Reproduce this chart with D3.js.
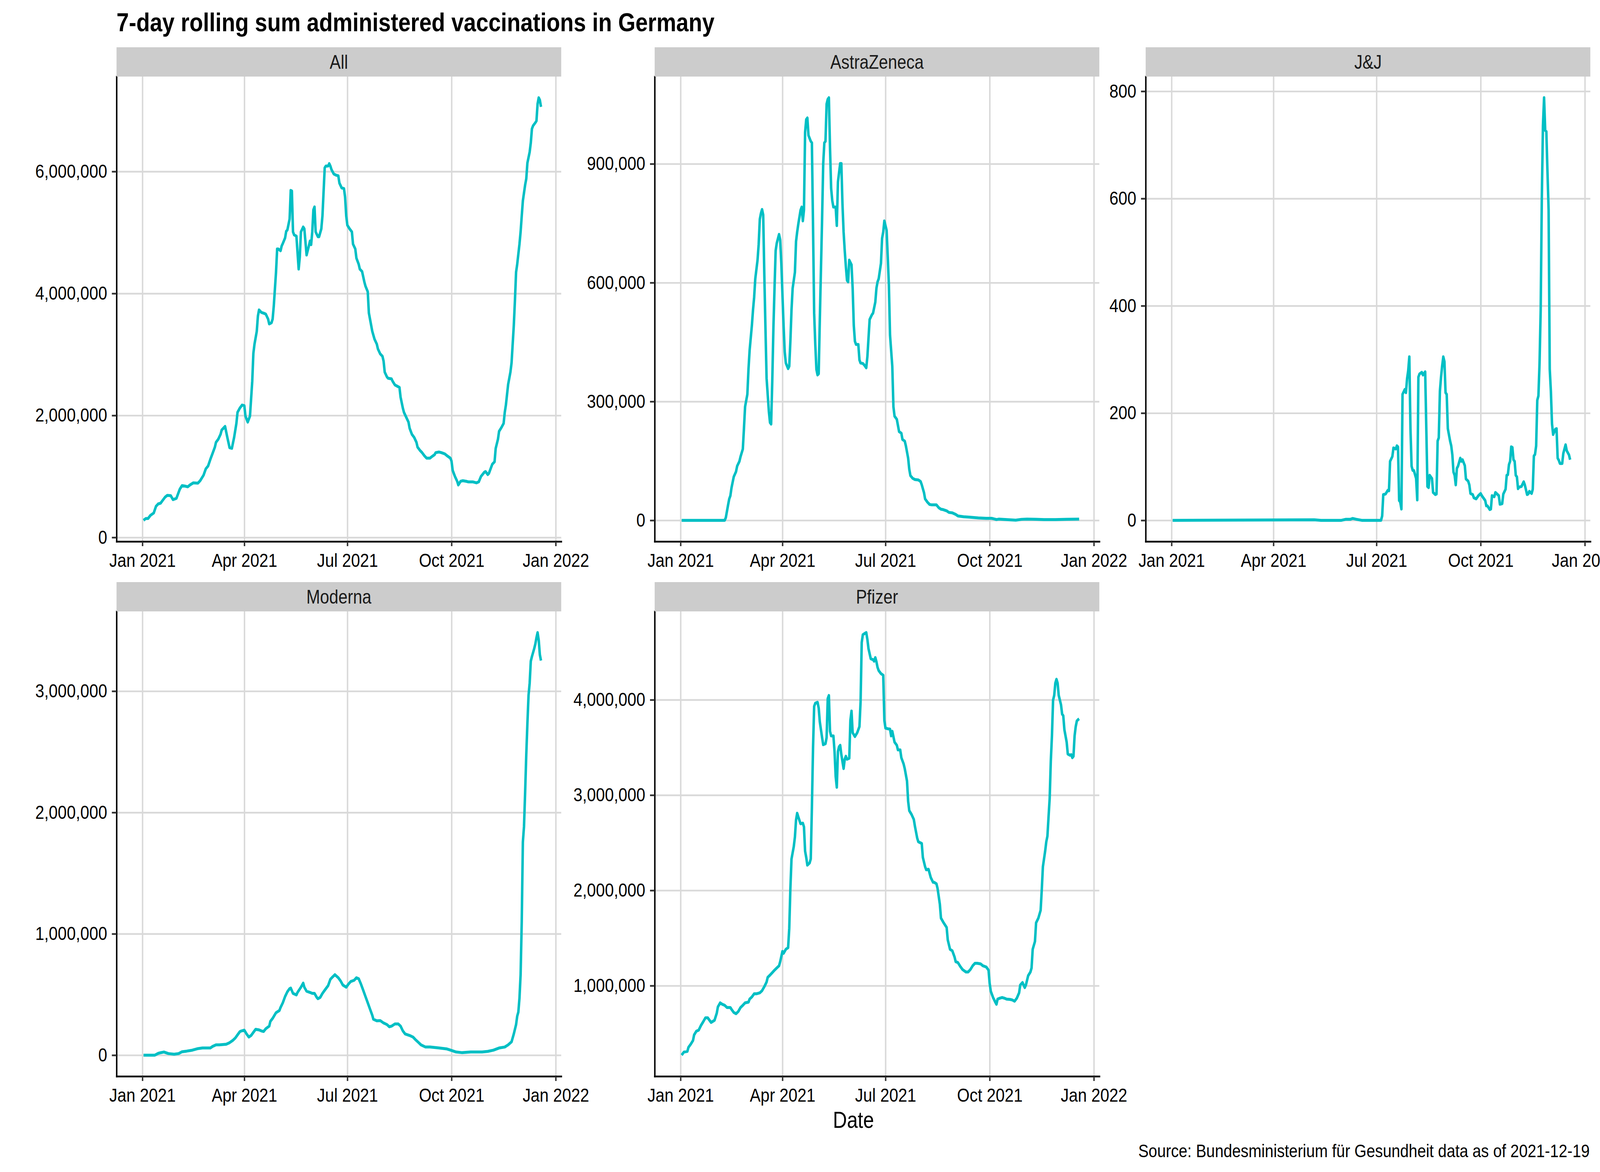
<!DOCTYPE html>
<html>
<head>
<meta charset="utf-8">
<script src="https://cdn.jsdelivr.net/npm/d3@7"></script>
<style>
  html, body { margin: 0; padding: 0; background: #fff; overflow: hidden; }
  svg { display: block; width: 100vw; height: 100vh; }
  text { font-family: "Liberation Sans", Arial, sans-serif; }
</style>
</head>
<body>
<div id="app"></div>
<script>
const W = 4800, H = 3000;

// date range of the data rows (the rolling sum is empty for the first six days)
const dateStart = "2020-12-27", dateEnd = "2021-12-19";
const xTickDates = ["2021-01-01", "2021-04-01", "2021-07-01", "2021-10-01", "2022-01-01"];

// [day of 2021 (0 = 1 Jan), 7-day sum] -- thousands of doses, except J&J (doses)
const allDoses = [[1,280],[3,310],[5,310],[7,360],[10,400],[12,510],[14,550],[16,560],[18,610],[20,660],[22,690],[25,685],[27,620],[30,640],[31,690],[33,790],[35,850],[38,840],[40,830],[42,860],[45,895],[49,890],[51,930],[54,1020],[56,1125],[58,1170],[60,1280],[62,1380],[64,1480],[65,1560],[67,1610],[69,1690],[70,1760],[72,1800],[73,1820],[75,1640],[77,1470],[79,1460],[81,1640],[83,1870],[84,2050],[86,2120],[88,2170],[90,2160],[91,1990],[92,1940],[93,1890],[95,1990],[97,2560],[98,3020],[99,3170],[101,3380],[102,3630],[103,3730],[105,3690],[108,3670],[109,3660],[111,3580],[112,3500],[114,3520],[115,3580],[116,3790],[118,4350],[119,4730],[120,4730],[122,4700],[123,4780],[124,4820],[126,4910],[127,5020],[128,5040],[130,5220],[131,5690],[132,5680],[133,5010],[134,4960],[136,4940],[138,4400],[139,4600],[140,5010],[142,5090],[143,5060],[145,4630],[147,4780],[148,4860],[149,4800],[150,5010],[151,5370],[152,5420],[153,5010],[155,4930],[156,4930],[158,5060],[159,5270],[161,6060],[162,6090],[164,6090],[165,6130],[166,6090],[167,6030],[169,5960],[171,5940],[173,5930],[174,5810],[176,5730],[178,5720],[179,5580],[180,5270],[181,5120],[183,5060],[185,5010],[186,4810],[188,4730],[189,4580],[191,4480],[192,4400],[194,4360],[196,4190],[197,4120],[199,4030],[200,3680],[202,3480],[203,3380],[205,3250],[207,3170],[208,3090],[210,3010],[212,2970],[213,2890],[214,2710],[216,2630],[217,2610],[220,2600],[221,2560],[223,2500],[225,2480],[227,2460],[228,2300],[230,2120],[231,2050],[233,1970],[235,1890],[236,1790],[238,1690],[240,1640],[242,1560],[243,1480],[245,1430],[247,1390],[249,1340],[251,1300],[254,1300],[256,1330],[258,1355],[259,1390],[262,1400],[264,1390],[267,1370],[269,1340],[272,1300],[273,1250],[274,1100],[276,1000],[278,920],[279,860],[281,920],[283,930],[286,920],[288,910],[292,910],[295,895],[297,910],[299,1000],[302,1070],[303,1080],[305,1030],[306,1050],[308,1150],[309,1200],[311,1240],[312,1460],[314,1610],[315,1740],[317,1800],[319,1870],[320,2050],[321,2170],[323,2510],[324,2610],[325,2710],[326,2860],[328,3480],[329,3890],[330,4350],[331,4480],[333,4810],[334,5010],[335,5270],[336,5520],[338,5780],[339,5880],[340,6140],[342,6320],[343,6470],[344,6700],[345,6750],[347,6800],[348,6830],[349,7110],[350,7210],[351,7170],[352,7060]];

const azDoses = [[1,0],[39,0],[40,7],[42,39],[43,54],[44,62],[45,82],[47,110],[49,123],[50,137],[52,149],[53,161],[55,180],[56,232],[57,287],[59,318],[60,381],[61,429],[63,492],[64,531],[65,563],[66,610],[68,657],[69,697],[70,760],[71,775],[72,785],[73,771],[74,618],[75,484],[76,358],[78,275],[79,247],[80,243],[81,350],[82,484],[83,586],[84,681],[85,700],[87,722],[88,708],[89,649],[90,570],[91,492],[92,425],[93,397],[95,383],[96,389],[97,452],[98,531],[99,586],[101,626],[102,704],[103,728],[104,748],[106,783],[107,791],[108,756],[109,783],[110,980],[111,1012],[112,1016],[113,972],[115,957],[116,953],[117,744],[118,523],[119,444],[120,381],[121,367],[122,370],[123,507],[125,760],[126,901],[127,953],[128,957],[129,1051],[130,1063],[131,1067],[132,941],[133,838],[134,807],[135,791],[137,791],[138,744],[139,854],[140,878],[141,901],[142,901],[143,799],[144,728],[145,681],[146,641],[147,606],[148,602],[149,657],[151,645],[152,586],[153,492],[154,452],[155,444],[157,444],[158,405],[159,397],[161,396],[162,393],[164,385],[165,413],[166,460],[167,507],[169,519],[170,523],[172,551],[173,586],[174,602],[175,610],[177,649],[178,712],[179,728],[180,756],[182,732],[183,665],[184,594],[185,468],[187,389],[188,287],[189,263],[191,255],[193,224],[195,220],[196,204],[198,200],[199,188],[201,157],[202,129],[203,113],[205,106],[207,103],[210,102],[212,98],[213,90],[215,70],[216,54],[218,46],[220,40],[222,39],[226,39],[228,32],[230,28],[232,27],[235,24],[237,20],[240,19],[243,15],[245,11],[250,9],[255,8],[263,6],[270,5],[275,5],[279,2],[281,3],[288,2],[296,0.5],[301,2.5],[306,3],[314,2.5],[321,2],[331,2],[341,2.5],[352,3]];

const jjDoses = [[1,0],[126,1],[132,0],[150,0],[154,2],[158,2],[160,3.5],[163,2],[168,0],[185,0],[186,8],[187,48],[189,49],[191,56],[192,55],[193,110],[195,119],[196,135],[198,133],[199,139],[200,137],[201,37],[202,34],[203,21],[204,235],[206,244],[207,238],[208,264],[209,279],[210,305],[211,171],[212,101],[213,93],[214,93],[216,78],[217,38],[218,267],[219,273],[221,276],[222,271],[224,277],[226,63],[227,61],[228,84],[230,78],[231,52],[233,48],[234,49],[235,148],[236,154],[237,241],[238,267],[239,288],[240,305],[241,296],[242,238],[243,235],[244,171],[246,148],[247,139],[248,122],[249,90],[250,84],[251,66],[252,97],[253,101],[255,116],[256,110],[257,113],[259,102],[260,77],[262,73],[263,66],[264,50],[266,48],[267,42],[269,40],[271,46],[273,50],[274,46],[276,40],[277,37],[278,27],[279,27],[281,20],[282,21],[283,46],[285,44],[286,52],[288,48],[289,46],[290,30],[292,31],[293,49],[295,58],[296,84],[297,85],[298,104],[299,110],[300,137],[301,136],[302,113],[303,110],[304,84],[305,81],[306,59],[307,62],[309,63],[311,72],[312,66],[314,48],[315,49],[316,54],[318,50],[319,58],[320,120],[321,123],[322,139],[323,224],[324,232],[325,293],[326,392],[327,600],[328,736],[329,788],[330,727],[331,725],[332,650],[333,579],[334,282],[335,241],[336,180],[337,160],[339,170],[340,171],[341,116],[342,112],[343,106],[345,106],[346,125],[347,133],[348,141],[349,130],[351,122],[352,113]];

const modernaDoses = [[1,0],[11,0],[14,15],[16,20],[19,26],[23,13],[28,8],[32,13],[35,28],[39,33],[44,41],[49,54],[53,59],[60,59],[62,72],[65,85],[68,85],[74,90],[77,103],[80,123],[82,141],[84,167],[86,193],[87,198],[90,206],[92,175],[94,149],[96,162],[98,188],[100,213],[103,208],[105,200],[107,195],[109,218],[112,239],[113,278],[115,303],[118,350],[121,368],[122,393],[124,432],[126,483],[128,522],[130,548],[131,553],[133,509],[136,496],[137,517],[140,560],[142,594],[143,560],[145,527],[148,517],[150,509],[152,509],[154,476],[155,465],[157,476],[159,509],[161,535],[164,573],[166,625],[168,645],[170,663],[173,638],[175,612],[177,578],[180,560],[182,586],[184,607],[187,617],[189,638],[191,630],[193,586],[195,535],[197,483],[199,432],[201,380],[203,329],[204,296],[207,283],[210,285],[213,265],[216,252],[218,234],[220,239],[223,257],[226,257],[228,239],[230,200],[232,175],[236,162],[239,149],[241,129],[244,103],[246,85],[250,67],[254,67],[262,59],[269,51],[273,39],[277,26],[282,21],[290,26],[300,26],[305,31],[310,41],[315,59],[320,67],[323,85],[326,110],[328,175],[330,252],[331,321],[332,355],[333,470],[334,663],[335,1100],[336,1756],[337,1884],[338,2167],[339,2476],[340,2733],[341,2964],[342,3067],[343,3247],[344,3285],[346,3350],[347,3388],[348,3440],[349,3483],[350,3420],[351,3300],[352,3252]];

const pfizerDoses = [[1,271],[3,304],[6,310],[7,353],[9,386],[11,425],[12,484],[14,523],[16,533],[18,582],[20,621],[22,663],[24,663],[27,614],[30,637],[32,712],[33,778],[35,820],[37,804],[39,794],[41,771],[44,771],[45,752],[47,719],[49,706],[51,729],[53,771],[55,794],[57,820],[60,827],[61,859],[63,882],[65,915],[67,915],[70,925],[72,948],[74,990],[76,1039],[77,1088],[79,1111],[81,1137],[83,1163],[85,1186],[87,1209],[88,1252],[90,1360],[91,1340],[93,1382],[95,1399],[96,1600],[97,2020],[98,2330],[99,2395],[100,2460],[101,2559],[102,2739],[103,2810],[104,2771],[106,2699],[108,2706],[109,2667],[110,2412],[111,2346],[112,2265],[114,2288],[115,2330],[116,2869],[117,3490],[118,3931],[119,3964],[121,3974],[122,3915],[123,3768],[125,3604],[126,3529],[128,3539],[129,3604],[130,4013],[131,4046],[132,3670],[133,3621],[135,3621],[136,3458],[137,3196],[138,3082],[139,3458],[140,3507],[141,3523],[142,3425],[144,3278],[145,3376],[146,3408],[147,3376],[149,3386],[150,3784],[151,3882],[152,3654],[154,3614],[156,3654],[158,3719],[159,3980],[160,4601],[161,4683],[163,4699],[164,4706],[165,4634],[166,4536],[168,4431],[170,4421],[171,4405],[172,4444],[173,4399],[174,4340],[175,4307],[177,4275],[179,4258],[180,3784],[181,3703],[183,3696],[185,3693],[186,3621],[187,3670],[189,3556],[191,3523],[192,3474],[194,3474],[195,3392],[197,3327],[198,3278],[200,3147],[201,2935],[202,2837],[204,2797],[206,2745],[207,2673],[209,2549],[210,2510],[213,2493],[214,2346],[216,2248],[217,2216],[219,2222],[221,2134],[223,2085],[224,2085],[226,2069],[227,2020],[229,1856],[230,1709],[232,1667],[235,1611],[236,1480],[238,1382],[240,1366],[242,1301],[243,1252],[245,1242],[247,1203],[249,1170],[252,1144],[254,1144],[256,1170],[258,1209],[260,1235],[262,1235],[265,1229],[267,1209],[270,1196],[272,1163],[273,1023],[274,941],[276,876],[278,827],[279,804],[280,859],[282,869],[284,876],[286,869],[288,859],[291,856],[293,850],[295,837],[297,869],[299,925],[300,1007],[302,1033],[304,980],[305,1007],[307,1105],[309,1144],[310,1186],[311,1382],[313,1464],[314,1660],[316,1709],[318,1791],[319,2003],[320,2248],[322,2412],[323,2510],[324,2569],[325,2771],[326,2967],[327,3359],[328,3621],[329,3997],[330,4046],[331,4176],[332,4216],[333,4176],[334,4046],[336,3948],[337,3850],[338,3833],[339,3686],[341,3556],[342,3431],[344,3418],[345,3425],[346,3392],[347,3408],[348,3621],[349,3719],[350,3778],[351,3791],[352,3801]];

const facetNames = ["All", "AstraZeneca", "J&J", "Moderna", "Pfizer"];
const facetSeries = [allDoses, azDoses, jjDoses, modernaDoses, pfizerDoses];
const facetUnits = [1e3, 1e3, 1, 1e3, 1e3];
const facetTicks = [
  [0, 2e6, 4e6, 6e6],
  [0, 3e5, 6e5, 9e5],
  [0, 200, 400, 600, 800],
  [0, 1e6, 2e6, 3e6],
  [1e6, 2e6, 3e6, 4e6]
];

const titleText = "7-day rolling sum administered vaccinations in Germany";
const xTitle = "Date";
const captionText = "Source: Bundesministerium für Gesundheit data as of 2021-12-19";

// layout (px of the 4800x3000 picture)
const colLeft = [349.6, 1964, 3437], panelW = 1334;
const rowTop = [196, 1565], panelH = 1190, stripH = 75;
const lineColor = "#00BFC4", gridColor = "#D9D9D9", stripFill = "#CCCCCC";
const axisFont = 48.5, stripFont = 49.5;

const parseDate = d3.utcParse("%Y-%m-%d");
const jan1 = parseDate("2021-01-01");
const t0 = parseDate(dateStart), t1 = parseDate(dateEnd);
const padX = (t1 - t0) * 0.05;

const x = d3.scaleUtc()
  .domain([new Date(+t0 - padX), new Date(+t1 + padX)])
  .range([0, panelW]);
const xTicks = xTickDates.map(parseDate);

// fill the whole window, whatever its size
const svg = d3.select("#app").append("svg")
  .attr("viewBox", `0 0 ${W} ${H}`)
  .attr("preserveAspectRatio", "none");

svg.append("rect").attr("width", W).attr("height", H).attr("fill", "#fff");

svg.append("text")
  .attr("x", colLeft[0])
  .attr("y", 80)
  .attr("font-size", 66.7)
  .attr("font-weight", "bold")
  .attr("fill", "#000")
  .text(titleText);

facetNames.forEach((name, i) => {
  const col = i % 3, row = Math.floor(i / 3);
  const g = svg.append("g")
    .attr("transform", `translate(${colLeft[col]},${rowTop[row]})`);

  const points = facetSeries[i].map(([day, v]) => ({
    date: d3.utcDay.offset(jan1, day),
    value: v * facetUnits[i]
  }));

  const [lo, hi] = d3.extent(points, d => d.value);
  const padY = (hi - lo) * 0.05;
  const y = d3.scaleLinear().domain([lo - padY, hi + padY]).range([panelH, 0]);

  // grid
  g.append("g")
    .call(d3.axisLeft(y).tickValues(facetTicks[i]).tickSize(-panelW).tickFormat(""))
    .call(s => s.select(".domain").remove())
    .selectAll("line")
    .attr("stroke", gridColor)
    .attr("stroke-width", 4.4);

  g.append("g")
    .attr("transform", `translate(0,${panelH})`)
    .call(d3.axisBottom(x).tickValues(xTicks).tickSize(-panelH).tickFormat(""))
    .call(s => s.select(".domain").remove())
    .selectAll("line")
    .attr("stroke", gridColor)
    .attr("stroke-width", 4.4);

  // series
  const line = d3.line()
    .x(d => x(d.date))
    .y(d => y(d.value));

  g.append("path")
    .datum(points)
    .attr("d", line)
    .attr("fill", "none")
    .attr("stroke", lineColor)
    .attr("stroke-width", 7.5)
    .attr("stroke-linejoin", "round");

  // axes
  const ya = g.append("g")
    .call(d3.axisLeft(y)
      .tickValues(facetTicks[i])
      .tickSize(14)
      .tickSizeOuter(0)
      .tickPadding(14)
      .tickFormat(d3.format(",")));

  const xa = g.append("g")
    .attr("transform", `translate(0,${panelH})`)
    .call(d3.axisBottom(x)
      .tickValues(xTicks)
      .tickSize(12)
      .tickSizeOuter(0)
      .tickPadding(19)
      .tickFormat(d3.utcFormat("%b %Y")));

  for (const a of [ya, xa]) {
    a.attr("font-family", null).attr("font-size", null);
    a.select(".domain")
      .attr("stroke", "#000")
      .attr("stroke-width", 4.4)
      .attr("stroke-linecap", "square");
    a.selectAll(".tick line").attr("stroke", "#333333").attr("stroke-width", 4.4);
    a.selectAll(".tick text").attr("fill", "#000").attr("font-size", axisFont);
  }

  // strip
  g.append("rect")
    .attr("x", 0)
    .attr("y", -stripH)
    .attr("width", panelW)
    .attr("height", stripH)
    .attr("fill", stripFill);

  g.append("text")
    .attr("x", panelW / 2)
    .attr("y", -stripH + 55)
    .attr("text-anchor", "middle")
    .attr("font-size", stripFont)
    .attr("fill", "#1A1A1A")
    .text(name);
});

svg.append("text")
  .attr("x", (colLeft[0] + colLeft[2] + panelW) / 2)
  .attr("y", 2887)
  .attr("text-anchor", "middle")
  .attr("font-size", 58.3)
  .attr("fill", "#000")
  .text(xTitle);

svg.append("text")
  .attr("x", colLeft[2] + panelW - 2)
  .attr("y", 2962)
  .attr("text-anchor", "end")
  .attr("font-size", 46.5)
  .attr("fill", "#000")
  .text(captionText);
</script>
</body>
</html>
